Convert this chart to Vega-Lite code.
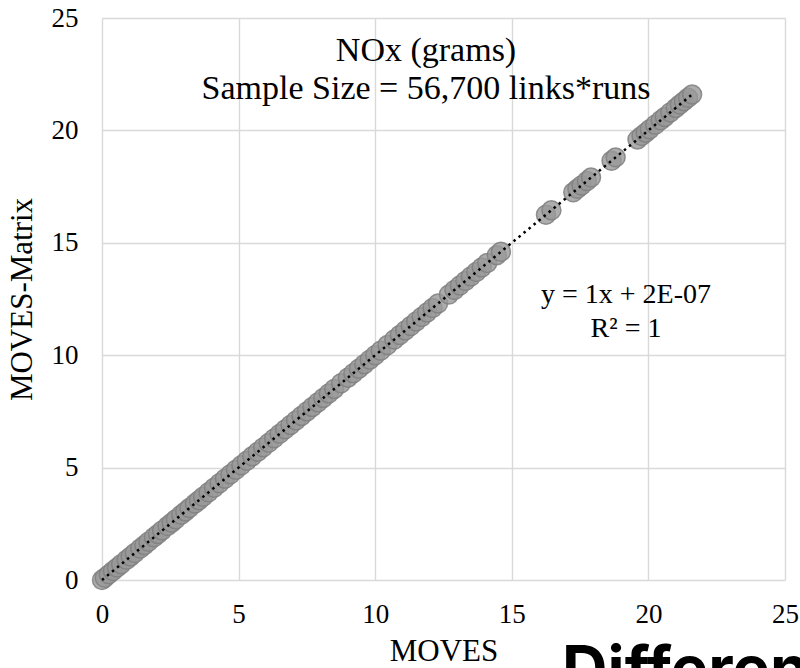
{
  "$schema": "https://vega.github.io/schema/vega-lite/v6.json",
  "width": 683,
  "height": 562,
  "autosize": {"type": "none"},
  "padding": {"left": 102, "top": 18, "right": 15, "bottom": 88},
  "background": "white",
  "config": {
    "view": {"stroke": null},
    "font": "Liberation Serif",
    "axis": {
      "grid": true,
      "gridColor": "#d9d9d9",
      "gridWidth": 1.4,
      "domain": false,
      "ticks": false,
      "labelFont": "Liberation Serif",
      "labelFontSize": 27,
      "labelColor": "#000000",
      "labelFlush": false,
      "labelOverlap": false,
      "titleFont": "Liberation Serif",
      "titleFontSize": 31,
      "titleFontWeight": "normal",
      "titleColor": "#000000"
    }
  },
  "datasets": {
    "points": [
      {"moves": 0.0, "matrix": 0.0}, {"moves": 0.1, "matrix": 0.1}, {"moves": 0.25, "matrix": 0.25},
      {"moves": 0.4, "matrix": 0.4}, {"moves": 0.55, "matrix": 0.55}, {"moves": 0.7, "matrix": 0.7},
      {"moves": 0.9, "matrix": 0.9}, {"moves": 1.05, "matrix": 1.05}, {"moves": 1.2, "matrix": 1.2},
      {"moves": 1.4, "matrix": 1.4}, {"moves": 1.55, "matrix": 1.55}, {"moves": 1.7, "matrix": 1.7},
      {"moves": 1.9, "matrix": 1.9}, {"moves": 2.05, "matrix": 2.05}, {"moves": 2.2, "matrix": 2.2},
      {"moves": 2.4, "matrix": 2.4}, {"moves": 2.55, "matrix": 2.55}, {"moves": 2.7, "matrix": 2.7},
      {"moves": 2.9, "matrix": 2.9}, {"moves": 3.05, "matrix": 3.05}, {"moves": 3.2, "matrix": 3.2},
      {"moves": 3.4, "matrix": 3.4}, {"moves": 3.55, "matrix": 3.55}, {"moves": 3.7, "matrix": 3.7},
      {"moves": 3.9, "matrix": 3.9}, {"moves": 4.1, "matrix": 4.1}, {"moves": 4.3, "matrix": 4.3},
      {"moves": 4.5, "matrix": 4.5}, {"moves": 4.7, "matrix": 4.7}, {"moves": 4.9, "matrix": 4.9},
      {"moves": 5.1, "matrix": 5.1}, {"moves": 5.3, "matrix": 5.3}, {"moves": 5.5, "matrix": 5.5},
      {"moves": 5.7, "matrix": 5.7}, {"moves": 5.9, "matrix": 5.9}, {"moves": 6.1, "matrix": 6.1},
      {"moves": 6.3, "matrix": 6.3}, {"moves": 6.5, "matrix": 6.5}, {"moves": 6.7, "matrix": 6.7},
      {"moves": 6.9, "matrix": 6.9}, {"moves": 7.1, "matrix": 7.1}, {"moves": 7.3, "matrix": 7.3},
      {"moves": 7.5, "matrix": 7.5}, {"moves": 7.7, "matrix": 7.7}, {"moves": 7.9, "matrix": 7.9},
      {"moves": 8.1, "matrix": 8.1}, {"moves": 8.3, "matrix": 8.3}, {"moves": 8.5, "matrix": 8.5},
      {"moves": 8.75, "matrix": 8.75}, {"moves": 9.0, "matrix": 9.0}, {"moves": 9.2, "matrix": 9.2},
      {"moves": 9.4, "matrix": 9.4}, {"moves": 9.6, "matrix": 9.6}, {"moves": 9.8, "matrix": 9.8},
      {"moves": 10.0, "matrix": 10.0}, {"moves": 10.2, "matrix": 10.2}, {"moves": 10.45, "matrix": 10.45},
      {"moves": 10.7, "matrix": 10.7}, {"moves": 10.9, "matrix": 10.9}, {"moves": 11.1, "matrix": 11.1},
      {"moves": 11.3, "matrix": 11.3}, {"moves": 11.5, "matrix": 11.5}, {"moves": 11.7, "matrix": 11.7},
      {"moves": 11.9, "matrix": 11.9}, {"moves": 12.1, "matrix": 12.1}, {"moves": 12.3, "matrix": 12.3},
      {"moves": 12.7, "matrix": 12.7}, {"moves": 12.9, "matrix": 12.9}, {"moves": 13.1, "matrix": 13.1},
      {"moves": 13.3, "matrix": 13.3}, {"moves": 13.5, "matrix": 13.5}, {"moves": 13.7, "matrix": 13.7},
      {"moves": 13.9, "matrix": 13.9}, {"moves": 14.1, "matrix": 14.1}, {"moves": 14.45, "matrix": 14.45},
      {"moves": 14.6, "matrix": 14.6},
      {"moves": 16.25, "matrix": 16.25}, {"moves": 16.45, "matrix": 16.45},
      {"moves": 17.25, "matrix": 17.25}, {"moves": 17.4, "matrix": 17.4}, {"moves": 17.55, "matrix": 17.55},
      {"moves": 17.75, "matrix": 17.75}, {"moves": 17.9, "matrix": 17.9},
      {"moves": 18.65, "matrix": 18.65}, {"moves": 18.8, "matrix": 18.8},
      {"moves": 19.6, "matrix": 19.6}, {"moves": 19.75, "matrix": 19.75}, {"moves": 19.9, "matrix": 19.9},
      {"moves": 20.05, "matrix": 20.05}, {"moves": 20.25, "matrix": 20.25}, {"moves": 20.45, "matrix": 20.45},
      {"moves": 20.6, "matrix": 20.6}, {"moves": 20.8, "matrix": 20.8}, {"moves": 21.0, "matrix": 21.0},
      {"moves": 21.15, "matrix": 21.15}, {"moves": 21.3, "matrix": 21.3}, {"moves": 21.45, "matrix": 21.45},
      {"moves": 21.6, "matrix": 21.6}
    ],
    "titleText": [
      {"x": 11.86, "y": 23.1, "text": "NOx (grams)"},
      {"x": 11.86, "y": 21.4, "text": "Sample Size = 56,700 links*runs"}
    ],
    "equation": [
      {"x": 19.18, "y": 12.32, "text": "y = 1x + 2E-07"},
      {"x": 19.18, "y": 10.81, "text": "R² = 1"}
    ],
    "overlay": [
      {"x": 16.84, "y": -4.95, "text": "Difference"}
    ]
  },
  "layer": [
    {
      "data": {"name": "points"},
      "mark": {"type": "point", "shape": "circle", "filled": true, "size": 360, "fill": "#999999", "fillOpacity": 0.8, "stroke": "#7f7f7f", "strokeWidth": 1.5, "strokeOpacity": 0.85},
      "encoding": {
        "x": {"field": "moves", "type": "quantitative", "scale": {"domain": [0, 25], "nice": false, "zero": false}, "axis": {"values": [0, 5, 10, 15, 20, 25], "title": "MOVES", "labelPadding": 21, "titlePadding": 9}},
        "y": {"field": "matrix", "type": "quantitative", "scale": {"domain": [0, 25], "nice": false, "zero": false}, "axis": {"values": [0, 5, 10, 15, 20, 25], "title": "MOVES-Matrix", "labelPadding": 24, "titlePadding": 13}}
      }
    },
    {
      "data": {"name": "points"},
      "transform": [{"regression": "matrix", "on": "moves", "method": "linear"}],
      "mark": {"type": "line", "color": "#000000", "strokeWidth": 2.5, "strokeDash": [2.5, 4]},
      "encoding": {
        "x": {"field": "moves", "type": "quantitative"},
        "y": {"field": "matrix", "type": "quantitative"}
      }
    },
    {
      "data": {"name": "titleText"},
      "mark": {"type": "text", "font": "Liberation Serif", "fontSize": 34, "align": "center", "baseline": "alphabetic", "color": "#000000"},
      "encoding": {
        "x": {"field": "x", "type": "quantitative"},
        "y": {"field": "y", "type": "quantitative"},
        "text": {"field": "text"}
      }
    },
    {
      "data": {"name": "equation"},
      "mark": {"type": "text", "font": "Liberation Serif", "fontSize": 28, "align": "center", "baseline": "alphabetic", "color": "#000000"},
      "encoding": {
        "x": {"field": "x", "type": "quantitative"},
        "y": {"field": "y", "type": "quantitative"},
        "text": {"field": "text"}
      }
    },
    {
      "data": {"name": "overlay"},
      "mark": {"type": "text", "font": "Inter", "fontWeight": "bold", "fontSize": 63, "align": "left", "baseline": "alphabetic", "color": "#000000"},
      "encoding": {
        "x": {"field": "x", "type": "quantitative"},
        "y": {"field": "y", "type": "quantitative"},
        "text": {"field": "text"}
      }
    }
  ]
}
